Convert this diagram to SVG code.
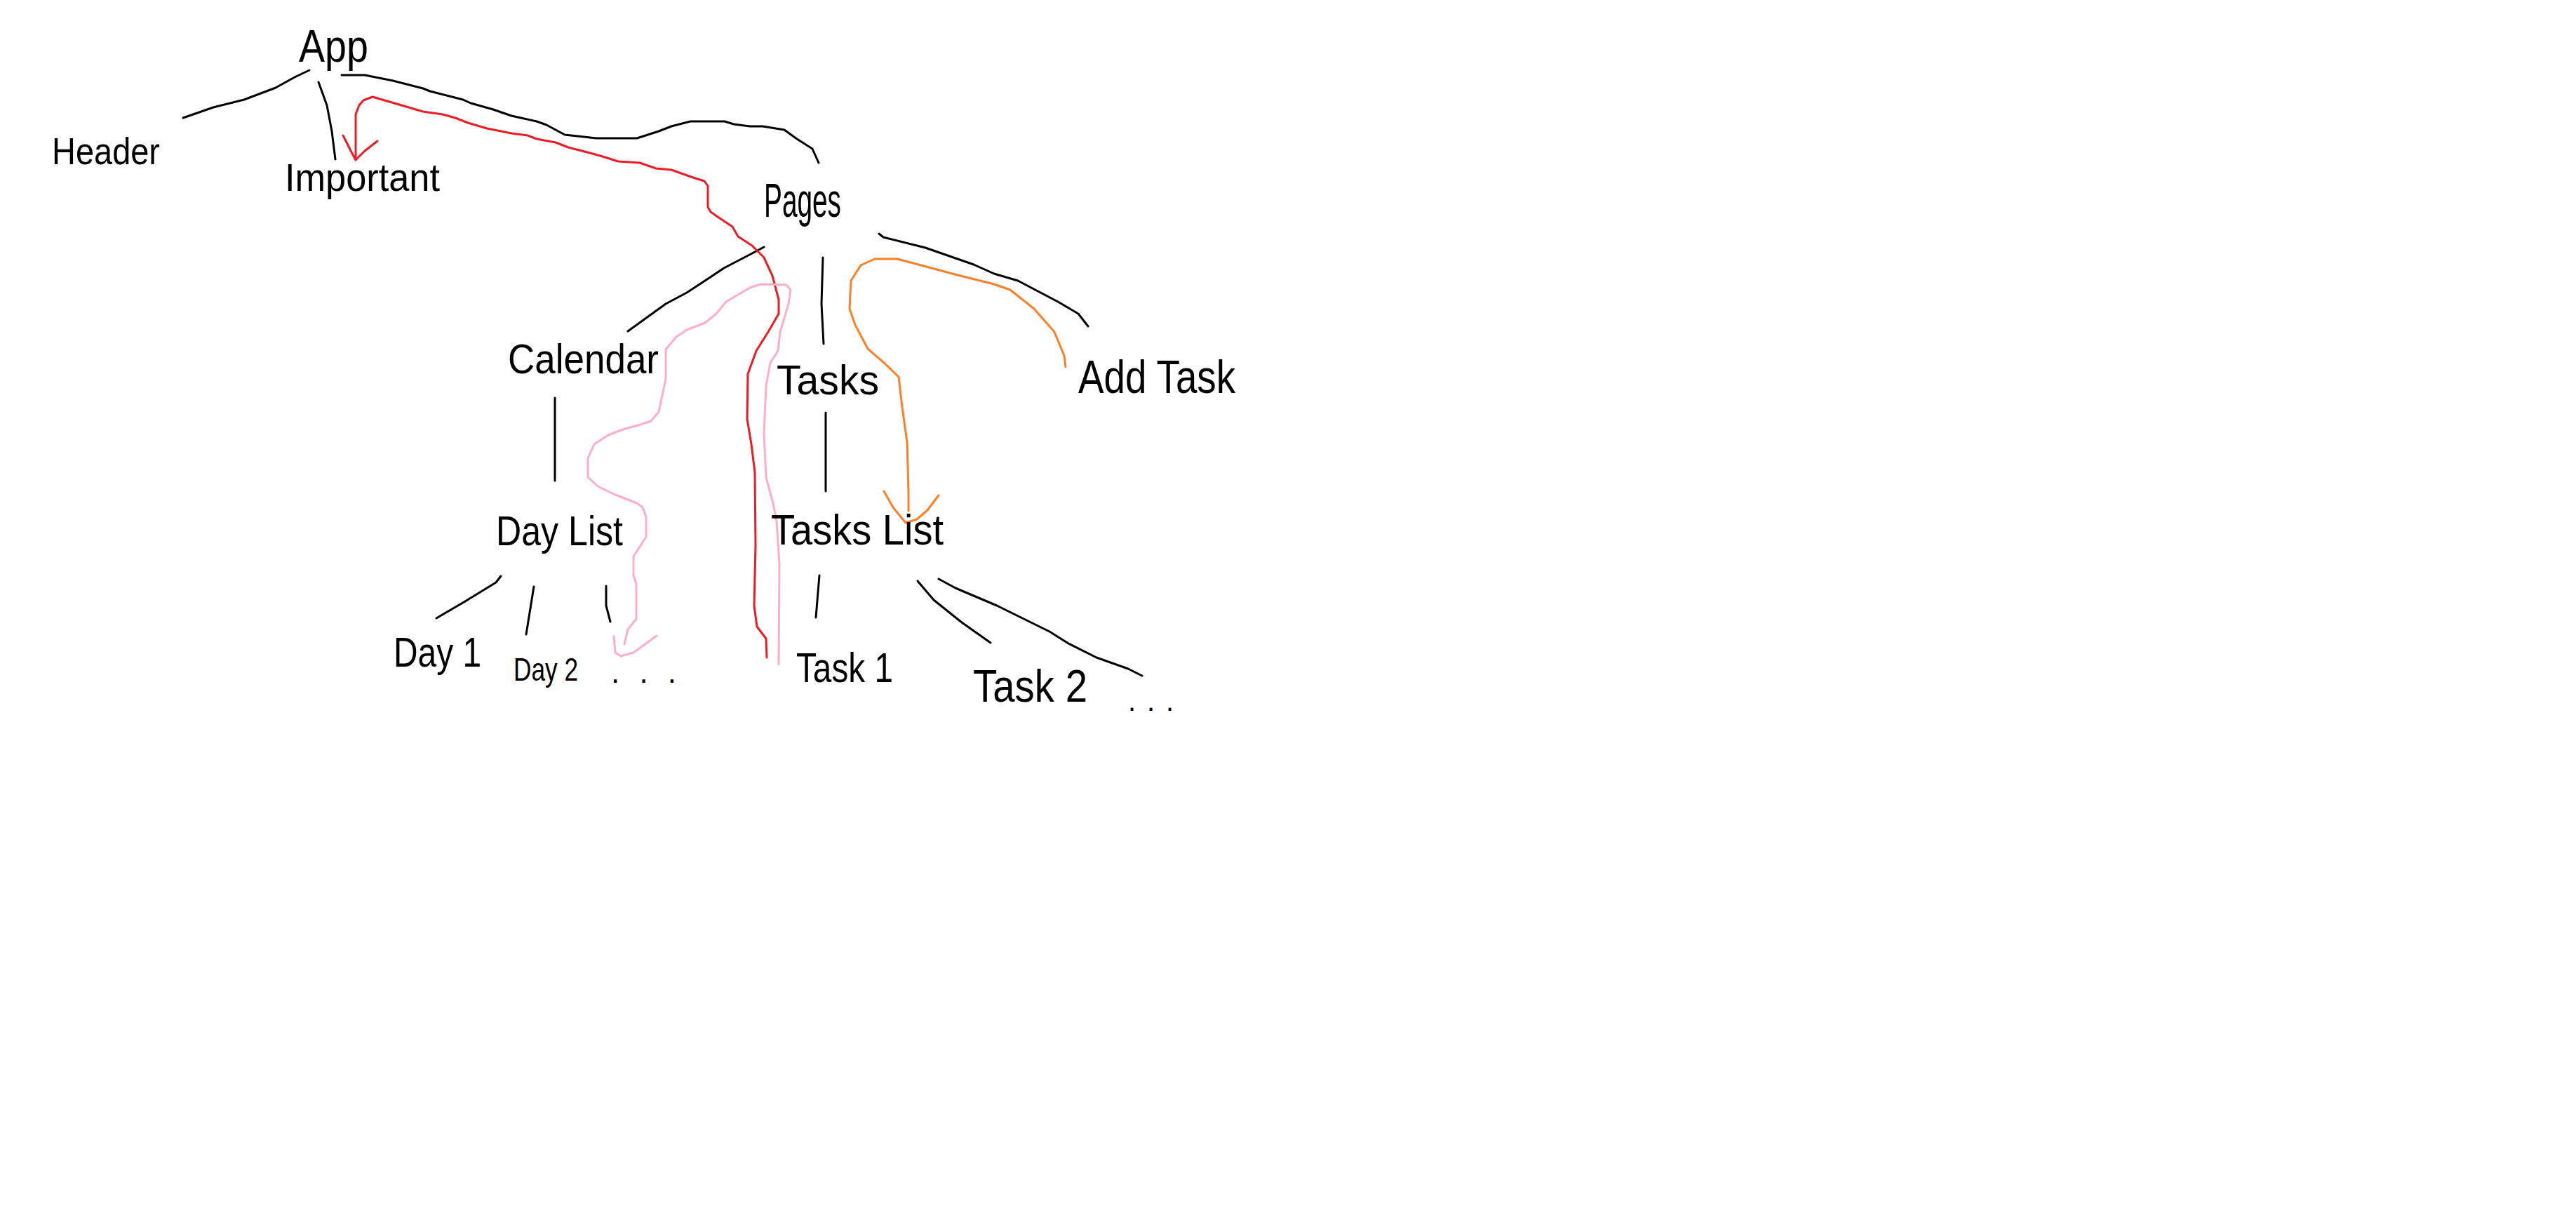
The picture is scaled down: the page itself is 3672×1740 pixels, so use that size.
<svg xmlns="http://www.w3.org/2000/svg" width="3672" height="1740" viewBox="0 0 3672 1740">
  <style>
    .bg { fill: #ffffff; }
    .lbl { font-family: "Liberation Sans", Arial, sans-serif; fill: #000000; }
    .ln { fill: none; stroke-width: 3; stroke-linecap: round; stroke-linejoin: round; }
    .k { stroke: #000000; }
    .r { stroke: #ed1c24; }
    .p { stroke: #ffaec9; }
    .o { stroke: #ff7f27; }
  </style>
  <rect class="bg" x="0" y="0" width="3672" height="1740"/>

  <!-- component tree edges and data-flow arrows -->
  <g id="connectors">
    <path class="ln k" d="M441,100 L420,110 L393,125 L348,142 L304,153 L261,168"/>
    <path class="ln k" d="M454,117 L466,150 L473,187 L478,227"/>
    <path class="ln k" d="M487,107 L520,107 L560,115 L603,126 L613,130 L660,142 L671,147 L703,156 L729,165 L765,173 L779,178 L805,192 L850,197 L908,197 L939,187 L957,180 L984,173 L1033,173 L1046,177 L1069,180 L1087,180 L1118,185 L1136,198 L1158,212 L1167,232"/>
    <path class="ln k" d="M1089,352 L1078,358 L1032,382 L1005,400 L979,417 L949,433 L895,472"/>
    <path class="ln k" d="M1173,367 L1171,433 L1174,490"/>
    <path class="ln k" d="M1253,333 L1259,338 L1319,353 L1388,377 L1417,390 L1451,400 L1508,430 L1537,447 L1551,465"/>
    <path class="ln k" d="M791,567 L791,685"/>
    <path class="ln k" d="M1177,588 L1177,700"/>
    <path class="ln k" d="M714,821 L707,830 L663,857 L622,881"/>
    <path class="ln k" d="M761,836 L750,904"/>
    <path class="ln k" d="M864,835 L864,863 L870,886"/>
    <path class="ln k" d="M1168,820 L1163,880"/>
    <path class="ln k" d="M1308,828 L1331,855 L1371,887 L1412,916"/>
    <path class="ln k" d="M1338,825 L1362,838 L1421,863 L1496,900 L1523,917 L1563,937 L1608,953 L1628,963"/>

    <!-- red: Task 1 up to Important -->
    <path class="ln r" d="M1093,937 L1092,910 L1079,893 L1075,863 L1077,777 L1076,673 L1071,633 L1065,597 L1066,533 L1078,500 L1095,473 L1110,447 L1110,427 L1101,393 L1089,367 L1072,350 L1052,337 L1044,323 L1026,311 L1013,302 L1009,295 L1009,265 L1004,258 L988,253 L971,247 L957,242 L935,240 L912,232 L881,230 L859,223 L841,218 L810,210 L792,203 L765,198 L752,193 L729,190 L694,183 L667,175 L649,168 L631,163 L603,159 L562,147 L531,138 L518,143 L512,150 L507,163 L507,224"/>
    <path class="ln r" d="M489,193 L500,215 L507,228 L520,215 L538,201"/>

    <!-- pink: Task 1 over to the day items -->
    <path class="ln p" d="M1110,947 L1111,803 L1107,743 L1102,717 L1092,680 L1089,617 L1092,550 L1098,517 L1109,500 L1112,473 L1124,433 L1127,413 L1121,406 L1084,405 L1069,410 L1035,430 L1021,447 L1005,460 L979,470 L964,480 L949,498 L949,540 L939,587 L928,600 L913,605 L888,612 L867,620 L847,633 L838,653 L838,680 L852,693 L877,705 L908,717 L916,723 L921,737 L921,765 L903,793 L903,820 L907,833 L907,882 L895,897 L890,918"/>
    <path class="ln p" d="M875,907 L877,930 L885,935 L903,930 L936,906"/>

    <!-- orange: Add Task back into Tasks List -->
    <path class="ln o" d="M1519,523 L1517,507 L1503,473 L1474,440 L1440,413 L1417,405 L1365,392 L1313,378 L1279,369 L1247,369 L1227,378 L1213,400 L1211,440 L1219,463 L1237,497 L1260,517 L1281,537 L1286,580 L1293,630 L1295,700 L1295,728"/>
    <path class="ln o" d="M1260,700 L1273,723 L1291,745 L1307,740 L1322,727 L1338,706"/>
  </g>

  <g id="app"><text class="lbl" x="426" y="88" font-size="64" textLength="99" lengthAdjust="spacingAndGlyphs">App</text></g>
  <g id="header"><text class="lbl" x="74" y="234" font-size="54" textLength="154" lengthAdjust="spacingAndGlyphs">Header</text></g>
  <g id="important"><text class="lbl" x="406" y="272" font-size="56" textLength="221" lengthAdjust="spacingAndGlyphs">Important</text></g>
  <g id="pages"><text class="lbl" x="1089" y="309" font-size="68" textLength="110" lengthAdjust="spacingAndGlyphs">Pages</text></g>
  <g id="calendar"><text class="lbl" x="724" y="532" font-size="60" textLength="215" lengthAdjust="spacingAndGlyphs">Calendar</text></g>
  <g id="tasks"><text class="lbl" x="1107" y="562" font-size="60" textLength="146" lengthAdjust="spacingAndGlyphs">Tasks</text></g>
  <g id="add-task"><text class="lbl" x="1537" y="560" font-size="66" textLength="224" lengthAdjust="spacingAndGlyphs">Add Task</text></g>
  <g id="day-list"><text class="lbl" x="707" y="777" font-size="60" textLength="181" lengthAdjust="spacingAndGlyphs">Day List</text></g>
  <g id="tasks-list"><text class="lbl" x="1099" y="776" font-size="62" textLength="246" lengthAdjust="spacingAndGlyphs">Tasks List</text></g>
  <g id="day-1"><text class="lbl" x="561" y="950" font-size="60" textLength="125" lengthAdjust="spacingAndGlyphs">Day 1</text></g>
  <g id="day-2"><text class="lbl" x="732" y="970" font-size="46" textLength="92" lengthAdjust="spacingAndGlyphs">Day 2</text></g>
  <g id="day-more"><text class="lbl" x="871" y="973" font-size="44" textLength="93" lengthAdjust="spacing">...</text></g>
  <g id="task-1"><text class="lbl" x="1135" y="972" font-size="60" textLength="138" lengthAdjust="spacingAndGlyphs">Task 1</text></g>
  <g id="task-2"><text class="lbl" x="1387" y="1000" font-size="64" textLength="163" lengthAdjust="spacingAndGlyphs">Task 2</text></g>
  <g id="task-more"><text class="lbl" x="1608" y="1013" font-size="40" textLength="65" lengthAdjust="spacing">...</text></g>
</svg>
